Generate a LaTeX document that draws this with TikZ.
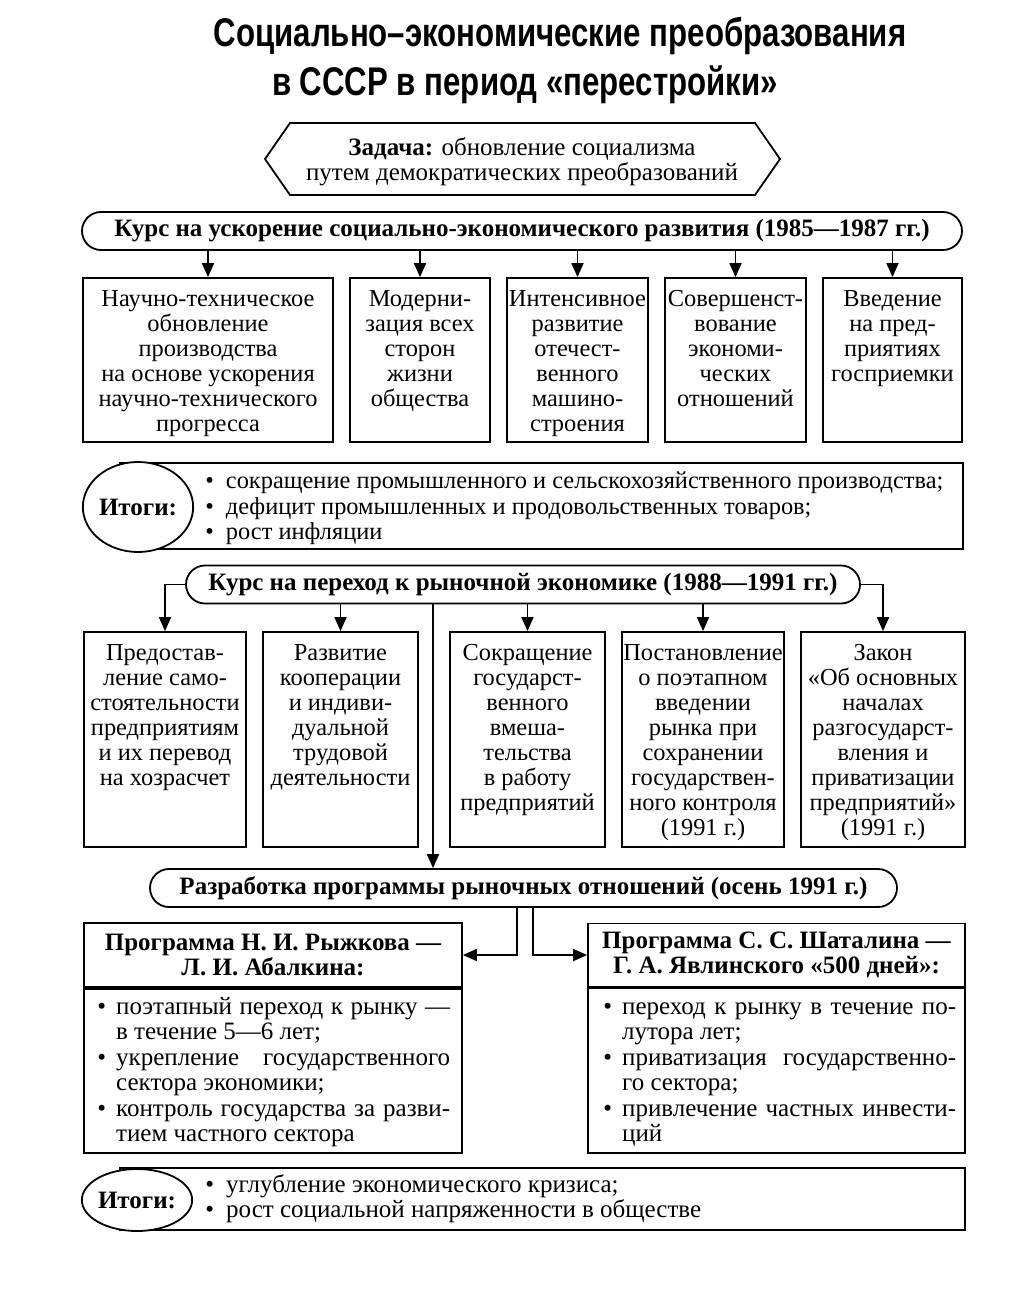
\documentclass[tikz,border=0pt]{standalone}
\usepackage{fontspec}
\setmainfont{Liberation Serif}
\newfontfamily\titlefont{Liberation Sans Bold}[FakeStretch=0.78]
\usetikzlibrary{arrows.meta,positioning,shapes.geometric}
\newcommand\fullline[1]{\makebox[167pt][s]{#1}}

\begin{document}
\begin{tikzpicture}[x=0.5pt,y=-0.5pt,
  font=\fontsize{12.5}{12.75}\selectfont,
  every node/.style={inner sep=0pt},
  heading/.style={font=\titlefont\fontsize{20}{22}\selectfont,anchor=base},
  course/.style={draw,line width=0.9pt,rounded corners=9.5pt,minimum height=19pt,
    font=\fontsize{12.5}{12.75}\selectfont\bfseries},
  cell/.style={draw,line width=0.9pt},
  celltext/.style={align=center,font=\fontsize{12.2}{12.5}\selectfont},
  result/.style={draw,line width=0.9pt},
  resultmark/.style={draw,line width=0.9pt,ellipse,fill=white,font=\fontsize{12.5}{12.75}\selectfont\bfseries},
  link/.style={line width=0.9pt},
  arr/.style={link,-{Triangle[length=7pt,width=6pt]}}]
\useasboundingbox (0,0) rectangle (1017,1305);

% title
\node[heading] (title1) at (560,47) {Социально–экономические преобразования};
\node[heading] (title2) at (525,96) {в СССР в период «перестройки»};

% task
\node[align=center] (task) at (522,162) {\textbf{Задача:} обновление социализма\\путем демократических преобразований};
\draw[link] (265,159) -- (290,123) -- (755,123) -- (780,159) -- (755,195) -- (290,195) -- cycle;

% course 1
\node[course,minimum width=440pt] (k1) at (522,231) {Курс на ускорение социально-экономического развития (1985—1987 гг.)};
\node[cell,minimum width=125pt,minimum height=82pt] (b1) at (208,360) {};
\node[cell,minimum width=70pt,minimum height=82pt] (b2) at (420,360) {};
\node[cell,minimum width=70.5pt,minimum height=82pt] (b3) at (577.5,360) {};
\node[cell,minimum width=70.5pt,minimum height=82pt] (b4) at (735.5,360) {};
\node[cell,minimum width=69.5pt,minimum height=82pt] (b5) at (892.5,360) {};
\node[celltext,below=6.5pt of b1.north] (b1t) {Научно-техническое\\обновление\\производства\\на основе ускорения\\научно-технического\\прогресса};
\node[celltext,below=6.5pt of b2.north] (b2t) {Модерни-\\зация всех\\сторон\\жизни\\общества};
\node[celltext,below=6.5pt of b3.north] (b3t) {Интенсивное\\развитие\\отечест-\\венного\\машино-\\строения};
\node[celltext,below=6.5pt of b4.north] (b4t) {Совершенст-\\вование\\экономи-\\ческих\\отношений};
\node[celltext,below=6.5pt of b5.north] (b5t) {Введение\\на пред-\\приятиях\\госприемки};
\foreach \b in {b1,b2,b3,b4,b5}
  \draw[arr] (k1.south -| \b.north) -- (\b.north);

% results 1
\node[result,minimum width=421.5pt,minimum height=43pt] (res1box) at (541.5,506) {};
\node[resultmark,minimum width=53.5pt,minimum height=45pt] (res1) at (138,507) {Итоги:};
\node[anchor=west,font=\fontsize{12.2}{12.75}\selectfont] (res1list) at (205,509) {\begin{tabular}{@{}l@{\hspace{6pt}}l@{}}
  • & сокращение промышленного и сельскохозяйственного производства;\\
  • & дефицит промышленных и продовольственных товаров;\\
  • & рост инфляции
\end{tabular}};

% course 2
\node[course,minimum width=337pt] (k2) at (523,584.5) {Курс на переход к рыночной экономике (1988—1991 гг.)};
\node[cell,minimum width=81pt,minimum height=107.5pt] (c1) at (165,739.5) {};
\node[cell,minimum width=77.5pt,minimum height=107.5pt] (c2) at (340.5,739.5) {};
\node[cell,minimum width=77.5pt,minimum height=107.5pt] (c3) at (527.5,739.5) {};
\node[cell,minimum width=81pt,minimum height=107.5pt] (c4) at (703,739.5) {};
\node[cell,minimum width=82pt,minimum height=107.5pt] (c5) at (883,739.5) {};
\node[celltext,below=6.5pt of c1.north] (c1t) {Предостав-\\ление само-\\стоятельности\\предприятиям\\и их перевод\\на хозрасчет};
\node[celltext,below=6.5pt of c2.north] (c2t) {Развитие\\кооперации\\и индиви-\\дуальной\\трудовой\\деятельности};
\node[celltext,below=6.5pt of c3.north] (c3t) {Сокращение\\государст-\\венного\\вмеша-\\тельства\\в работу\\предприятий};
\node[celltext,below=6.5pt of c4.north] (c4t) {Постановление\\о поэтапном\\введении\\рынка при\\сохранении\\государствен-\\ного контроля\\(1991 г.)};
\node[celltext,below=6.5pt of c5.north] (c5t) {Закон\\«Об основных\\началах\\разгосударст-\\вления и\\приватизации\\предприятий»\\(1991 г.)};
\draw[arr] (k2.west) -| (c1.north);
\draw[arr] (k2.east) -| (c5.north);
\foreach \c in {c2,c3,c4}
  \draw[arr] (k2.south -| \c.north) -- (\c.north);

% programme
\node[course,minimum width=373.5pt] (dev) at (523.5,888) {Разработка программы рыночных отношений (осень 1991 г.)};
\coordinate (sm) at (433,0);
\coordinate (sl) at (517,0);
\coordinate (sr) at (533,0);
\draw[arr] (k2.south -| sm) -- (dev.north -| sm);

\node[cell,minimum width=189pt,minimum height=32pt,align=center,font=\fontsize{12.5}{12.75}\selectfont\bfseries] (p1h) at (273,955)
  {Программа Н. И. Рыжкова —\\Л. И. Абалкина:};
\node[cell,minimum width=189pt,minimum height=82pt,below=0pt of p1h] (p1b) {};
\node[cell,minimum width=188.5pt,minimum height=31.5pt,align=center,font=\fontsize{12.5}{12.75}\selectfont\bfseries] (p2h) at (776.5,955)
  {Программа С. С. Шаталина —\\Г. А. Явлинского «500 дней»:};
\node[cell,minimum width=188.5pt,minimum height=82.5pt,below=0pt of p2h] (p2b) {};
\draw[arr] (dev.south -| sl) |- (p1h.east);
\draw[arr] (dev.south -| sr) |- (p2h.west);

\node[anchor=north west] (p1list) at (97,996) {\begin{tabular}{@{}l@{\hspace{5pt}}l@{}}
  • & \fullline{поэтапный переход к рынку —}\\
    & в течение 5—6 лет;\\
  • & \fullline{укрепление государственного}\\
    & сектора экономики;\\
  • & \fullline{контроль государства за разви-}\\
    & тием частного сектора
\end{tabular}};
\node[anchor=north west] (p2list) at (603,996) {\begin{tabular}{@{}l@{\hspace{5pt}}l@{}}
  • & \fullline{переход к рынку в течение по-}\\
    & лутора лет;\\
  • & \fullline{приватизация государственно-}\\
    & го сектора;\\
  • & \fullline{привлечение частных инвести-}\\
    & ций
\end{tabular}};

% results 2
\node[result,minimum width=422.5pt,minimum height=31pt] (res2box) at (542.5,1199) {};
\node[resultmark,minimum width=52.5pt,minimum height=31pt] (res2) at (137,1200) {Итоги:};
\node[anchor=west] (res2list) at (205,1200) {\begin{tabular}{@{}l@{\hspace{6pt}}l@{}}
  • & углубление экономического кризиса;\\
  • & рост социальной напряженности в обществе
\end{tabular}};
\end{tikzpicture}
\end{document}
